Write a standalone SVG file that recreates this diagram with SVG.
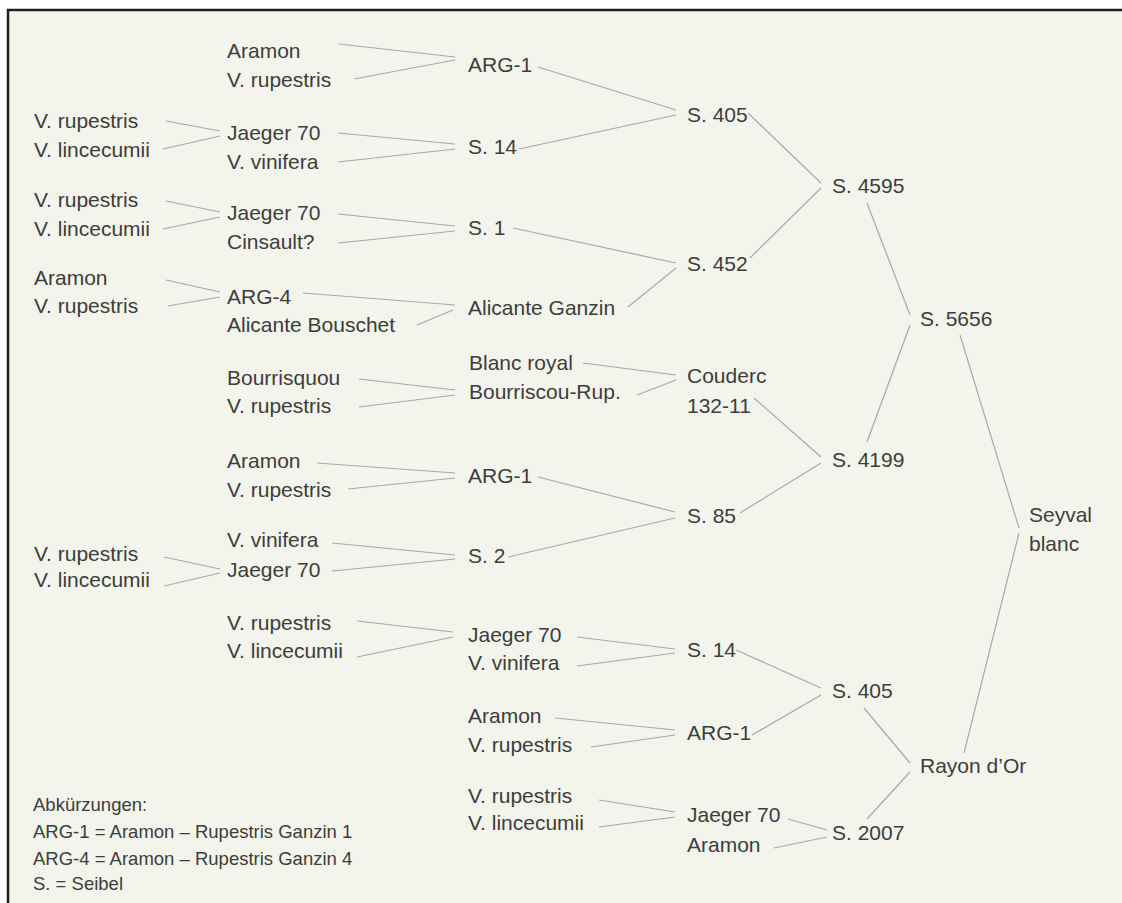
<svg xmlns="http://www.w3.org/2000/svg" width="1122" height="903" viewBox="0 0 1122 903">
<style>
text{font-family:"Liberation Sans",Arial,sans-serif;font-size:21px;fill:#3d3d3b}
.lg{font-size:18.5px}
#connectors line{stroke:#a9a9a3;stroke-width:1.2;fill:none}
</style>
<rect x="0" y="0" width="1122" height="903" fill="#ffffff"/>
<rect x="8" y="10" width="1114" height="893" fill="#f3f4ec"/>
<line x1="7" y1="10" x2="1122" y2="10" stroke="#1e1e1e" stroke-width="2.5"/>
<line x1="8" y1="9" x2="8" y2="903" stroke="#1e1e1e" stroke-width="2.5"/>
<g id="connectors">
<line x1="339" y1="44" x2="455" y2="57"/>
<line x1="354" y1="79" x2="455" y2="60"/>
<line x1="166" y1="121" x2="220" y2="131"/>
<line x1="163" y1="149" x2="220" y2="136"/>
<line x1="338" y1="133" x2="455" y2="144"/>
<line x1="338" y1="162" x2="455" y2="149"/>
<line x1="538" y1="67" x2="676" y2="110"/>
<line x1="519" y1="149" x2="676" y2="115"/>
<line x1="166" y1="201" x2="220" y2="212"/>
<line x1="163" y1="229" x2="220" y2="217"/>
<line x1="338" y1="214" x2="455" y2="226"/>
<line x1="338" y1="243" x2="455" y2="231"/>
<line x1="513" y1="228" x2="676" y2="263"/>
<line x1="166" y1="280" x2="220" y2="292"/>
<line x1="168" y1="306" x2="220" y2="297"/>
<line x1="303" y1="293" x2="455" y2="305"/>
<line x1="417" y1="325" x2="453" y2="310"/>
<line x1="628" y1="307" x2="676" y2="268"/>
<line x1="748" y1="113" x2="821" y2="183"/>
<line x1="750" y1="258" x2="821" y2="188"/>
<line x1="867" y1="203" x2="910" y2="315"/>
<line x1="359" y1="379" x2="455" y2="390"/>
<line x1="359" y1="407" x2="455" y2="395"/>
<line x1="583" y1="363" x2="676" y2="375"/>
<line x1="637" y1="395" x2="676" y2="380"/>
<line x1="754" y1="398" x2="821" y2="457"/>
<line x1="317" y1="463" x2="455" y2="473"/>
<line x1="348" y1="489" x2="455" y2="478"/>
<line x1="538" y1="477" x2="675" y2="512"/>
<line x1="164" y1="557" x2="220" y2="569"/>
<line x1="164" y1="586" x2="220" y2="573"/>
<line x1="332" y1="543" x2="455" y2="555"/>
<line x1="332" y1="571" x2="455" y2="559"/>
<line x1="508" y1="557" x2="675" y2="518"/>
<line x1="740" y1="513" x2="821" y2="463"/>
<line x1="867" y1="442" x2="910" y2="325"/>
<line x1="960" y1="335" x2="1019" y2="528"/>
<line x1="1019" y1="533" x2="964" y2="753"/>
<line x1="357" y1="621" x2="453" y2="632"/>
<line x1="357" y1="657" x2="453" y2="637"/>
<line x1="577" y1="637" x2="675" y2="649"/>
<line x1="577" y1="666" x2="675" y2="653"/>
<line x1="736" y1="650" x2="821" y2="688"/>
<line x1="555" y1="718" x2="675" y2="730"/>
<line x1="591" y1="747" x2="675" y2="735"/>
<line x1="752" y1="735" x2="821" y2="695"/>
<line x1="864" y1="708" x2="910" y2="763"/>
<line x1="599" y1="800" x2="675" y2="812"/>
<line x1="599" y1="827" x2="675" y2="817"/>
<line x1="788" y1="819" x2="827" y2="830"/>
<line x1="774" y1="848" x2="827" y2="837"/>
<line x1="867" y1="819" x2="910" y2="772"/>
</g>
<!-- column A -->
<g id="a1"><text x="34" y="128">V. rupestris</text></g>
<g id="a2"><text x="34" y="157">V. lincecumii</text></g>
<g id="a3"><text x="34" y="207">V. rupestris</text></g>
<g id="a4"><text x="34" y="236">V. lincecumii</text></g>
<g id="a5"><text x="34" y="285">Aramon</text></g>
<g id="a6"><text x="34" y="313">V. rupestris</text></g>
<g id="a7"><text x="34" y="561">V. rupestris</text></g>
<g id="a8"><text x="34" y="587">V. lincecumii</text></g>
<!-- column B -->
<g id="b1"><text x="227" y="58">Aramon</text></g>
<g id="b2"><text x="227" y="87">V. rupestris</text></g>
<g id="b3"><text x="227" y="140">Jaeger 70</text></g>
<g id="b4"><text x="227" y="169">V. vinifera</text></g>
<g id="b5"><text x="227" y="220">Jaeger 70</text></g>
<g id="b6"><text x="227" y="249">Cinsault?</text></g>
<g id="b7"><text x="227" y="304">ARG-4</text></g>
<g id="b8"><text x="227" y="332">Alicante Bouschet</text></g>
<g id="b9"><text x="227" y="385">Bourrisquou</text></g>
<g id="b10"><text x="227" y="413">V. rupestris</text></g>
<g id="b11"><text x="227" y="468">Aramon</text></g>
<g id="b12"><text x="227" y="497">V. rupestris</text></g>
<g id="b13"><text x="227" y="547">V. vinifera</text></g>
<g id="b14"><text x="227" y="577">Jaeger 70</text></g>
<g id="b15"><text x="227" y="630">V. rupestris</text></g>
<g id="b16"><text x="227" y="658">V. lincecumii</text></g>
<!-- column C -->
<g id="c1"><text x="468" y="72">ARG-1</text></g>
<g id="c2"><text x="468" y="154">S. 14</text></g>
<g id="c3"><text x="468" y="235">S. 1</text></g>
<g id="c4"><text x="468" y="315">Alicante Ganzin</text></g>
<g id="c5"><text x="469" y="370">Blanc royal</text></g>
<g id="c6"><text x="469" y="399">Bourriscou-Rup.</text></g>
<g id="c7"><text x="468" y="483">ARG-1</text></g>
<g id="c8"><text x="468" y="563">S. 2</text></g>
<g id="c9"><text x="468" y="642">Jaeger 70</text></g>
<g id="c10"><text x="468" y="670">V. vinifera</text></g>
<g id="c11"><text x="468" y="723">Aramon</text></g>
<g id="c12"><text x="468" y="752">V. rupestris</text></g>
<g id="c13"><text x="468" y="803">V. rupestris</text></g>
<g id="c14"><text x="468" y="830">V. lincecumii</text></g>
<!-- column D -->
<g id="d1"><text x="687" y="122">S. 405</text></g>
<g id="d2"><text x="687" y="271">S. 452</text></g>
<g id="d3"><text x="687" y="383">Couderc</text><text x="687" y="413">132-11</text></g>
<g id="d4"><text x="687" y="523">S. 85</text></g>
<g id="d5"><text x="687" y="657">S. 14</text></g>
<g id="d6"><text x="687" y="740">ARG-1</text></g>
<g id="d7"><text x="687" y="822">Jaeger 70</text></g>
<g id="d8"><text x="687" y="852">Aramon</text></g>
<!-- column E -->
<g id="e1"><text x="832" y="193">S. 4595</text></g>
<g id="e2"><text x="832" y="467">S. 4199</text></g>
<g id="e3"><text x="832" y="698">S. 405</text></g>
<g id="e4"><text x="832" y="840">S. 2007</text></g>
<!-- column F -->
<g id="f1"><text x="920" y="326">S. 5656</text></g>
<g id="f2"><text x="920" y="773">Rayon d’Or</text></g>
<!-- column G -->
<g id="g1"><text x="1029" y="522">Seyval</text><text x="1029" y="551">blanc</text></g>
<!-- legend -->
<g id="legend">
<text class="lg" x="33" y="811">Abkürzungen:</text>
<text class="lg" x="33" y="838">ARG-1 = Aramon – Rupestris Ganzin 1</text>
<text class="lg" x="33" y="865">ARG-4 = Aramon – Rupestris Ganzin 4</text>
<text class="lg" x="33" y="890">S. = Seibel</text>
</g>
</svg>
